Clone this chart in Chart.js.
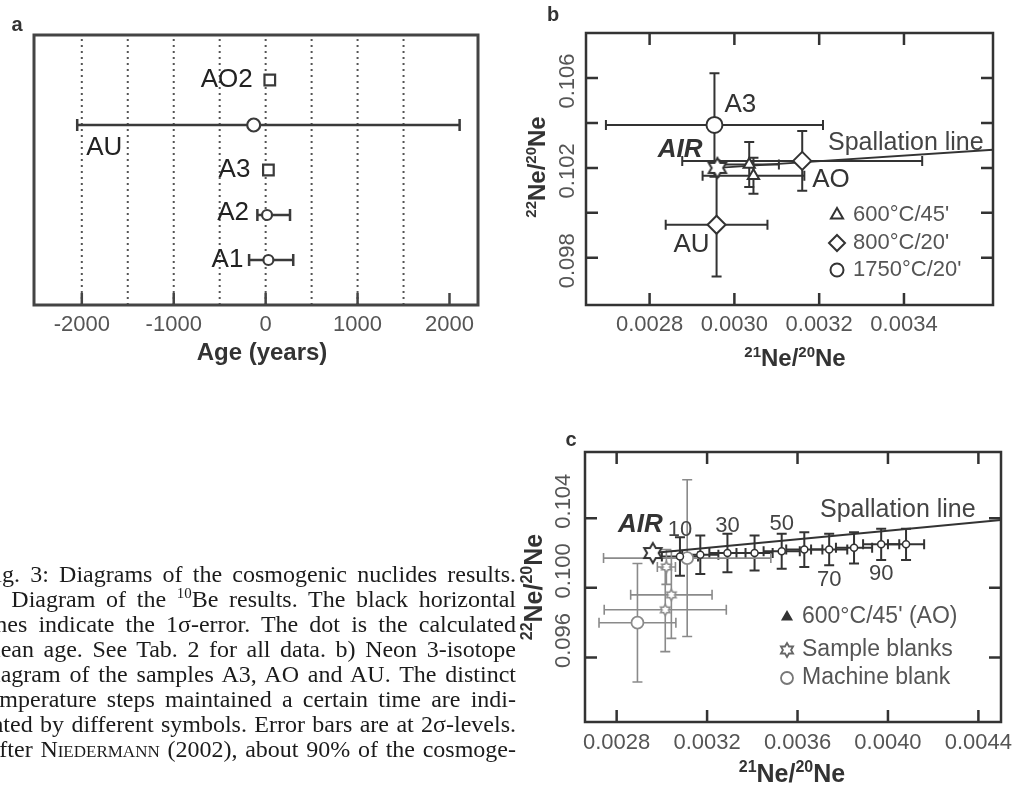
<!DOCTYPE html>
<html>
<head>
<meta charset="utf-8">
<title>Fig. 3</title>
<script src="https://cdn.jsdelivr.net/npm/chart.js@4.4.1/dist/chart.umd.min.js"></script>
<style>
  html, body { margin: 0; padding: 0; background: #fff; }
  body { width: 1012px; height: 785px; position: relative; overflow: hidden; }
  canvas { position: absolute; }
  #caption { position: absolute; left: -18px; top: 562px; width: 534px;
    font: 24px/25px "Liberation Serif", "Times New Roman", serif; color: #1b1b1b; }
  #caption div { white-space: nowrap; }
  .sc { font-variant: small-caps; }
  sup { font-size: 62%; line-height: 0; vertical-align: 0.6em; }
</style>
</head>
<body>
<canvas id="ageChart" style="left:0;top:0"></canvas>
<canvas id="neonChart" style="left:500px;top:0"></canvas>
<canvas id="blankChart" style="left:500px;top:400px"></canvas>
<div id="caption">
<div>Fig. 3: Diagrams of the cosmogenic nuclides results.</div>
<div>a) Diagram of the <sup>10</sup>Be results. The black horizontal</div>
<div>lines indicate the 1σ-error. The dot is the calculated</div>
<div>mean age. See Tab. 2 for all data. b) Neon 3-isotope</div>
<div>diagram of the samples A3, AO and AU. The distinct</div>
<div>temperature steps maintained a certain time are indi-</div>
<div>cated by different symbols. Error bars are at 2σ-levels.</div>
<div>After <span class="sc">Niedermann</span> (2002), about 90% of the cosmoge-</div>
</div>
<script>
// ---- a) 10Be ages (years), one row per sample ----
const ageSamples = ['AO2', 'AU', 'A3', 'A2', 'A1'];
const ageRows = [5, 4, 3, 2, 1];
const ageMean = [45, -130, 30, 15, 30];
const ageLow = [45, -2050, 30, -90, -180];
const ageHigh = [45, 2110, 30, 265, 300];
const ageGridLines = [-2000, -1500, -1000, -500, 0, 500, 1000, 1500];
const ageTicks = [-2000, -1000, 0, 1000, 2000];

// ---- b) neon 3-isotope plot, samples A3, AO, AU ----
const step600X = [0.003035, 0.003045];
const step600Y = [0.10215, 0.10165];
const step600XErr = [0.00007, 0.00012];
const step600YErr = [0.0010, 0.0008];
const step800Names = ['AO', 'AU'];
const step800X = [0.00316, 0.002958];
const step800Y = [0.10231, 0.09947];
const step800XErr = [0.000283, 0.00012];
const step800YErr = [0.00133, 0.0023];
const step1750Names = ['A3'];
const step1750X = [0.002953];
const step1750Y = [0.10391];
const step1750XErr = [0.000256];
const step1750YErr = [0.0023];
const airX = [0.00296];
const airY = [0.102];
const spallationX = [0.00296, 0.0045];
const spallationY = [0.102, 0.1039];
const bXTicks = [0.0028, 0.0030, 0.0032, 0.0034];
const bYTicks = [0.098, 0.100, 0.102, 0.104, 0.106];
const bYTickLabels = [0.098, 0.102, 0.106];

// ---- c) AO 600°C/45' release steps and blanks ----
const aoX = [0.00308, 0.00317, 0.00329, 0.00341, 0.00353, 0.00363, 0.00374, 0.00385, 0.00397, 0.00408];
const aoY = [0.1018, 0.1019, 0.1020, 0.1020, 0.1021, 0.1022, 0.1022, 0.1023, 0.1025, 0.1025];
const aoXErr = [0.00008, 0.00008, 0.00008, 0.00008, 0.00008, 0.00008, 0.00008, 0.00008, 0.00008, 0.00008];
const aoYErr = [0.0011, 0.0011, 0.0011, 0.0010, 0.0010, 0.0010, 0.0009, 0.0009, 0.0009, 0.0009];
const aoRelease = ['10', '', '30', '', '50', '', '70', '', '90', ''];
const sampleBlankX = [0.00302, 0.003042, 0.003015];
const sampleBlankY = [0.1012, 0.0996, 0.09874];
const sampleBlankXErr = [0.00004, 0.00018, 0.00027];
const sampleBlankYErr = [0.0010, 0.0025, 0.0024];
const machineBlankX = [0.002892, 0.003112];
const machineBlankY = [0.0980, 0.10171];
const machineBlankXErr = [0.00017, 0.00037];
const machineBlankYErr = [0.0034, 0.0045];
const cXTicks = [0.0028, 0.0032, 0.0036, 0.0040, 0.0044];
const cYTicks = [0.096, 0.100, 0.104];

const FAMILY = '"Liberation Sans", Arial, Helvetica, sans-serif';
const font = (size, weight = 'normal', style = 'normal') => `${style} ${weight} ${size}px ${FAMILY}`;
const INK = '#333';
const GREY = '#555';

// points with error ranges, built from the arrays above
const withErr = (xs, ys, xe, ye) => xs.map((v, i) => ({
  x: v, y: ys[i],
  xMin: xe ? v - xe[i] : undefined, xMax: xe ? v + xe[i] : undefined,
  yMin: ye ? ys[i] - ye[i] : undefined, yMax: ye ? ys[i] + ye[i] : undefined
}));

function starCanvas(r, color, lw) {
  const c = document.createElement('canvas');
  const s = Math.ceil(2 * r + 2 * lw + 2);
  c.width = c.height = s;
  const g = c.getContext('2d');
  g.translate(s / 2, s / 2);
  g.beginPath();
  for (let k = 0; k < 12; k++) {
    const rr = k % 2 ? r / Math.sqrt(3) : r;
    const a = -Math.PI / 2 + k * Math.PI / 6;
    g.lineTo(rr * Math.cos(a), rr * Math.sin(a));
  }
  g.closePath();
  g.fillStyle = '#fff';
  g.fill();
  g.lineWidth = lw;
  g.strokeStyle = color;
  g.stroke();
  return c;
}

function write(ctx, s, x, y, f, color, align = 'left', rot = 0) {
  ctx.save();
  ctx.translate(x, y);
  ctx.rotate(rot);
  ctx.font = f;
  ctx.fillStyle = color;
  ctx.textAlign = align;
  ctx.textBaseline = 'middle';
  ctx.fillText(s, 0, 0);
  ctx.restore();
}

// "²¹Ne/²⁰Ne" style title with real superscripts, centred on x
function isoTitle(ctx, o) {
  const parts = [[o.a, 1], ['Ne/', 0], [o.b, 1], ['Ne', 0]];
  ctx.save();
  ctx.translate(o.x, o.y);
  ctx.rotate(o.rot || 0);
  ctx.fillStyle = o.color;
  ctx.textBaseline = 'alphabetic';
  ctx.textAlign = 'left';
  const w = parts.map(([s, sup]) => { ctx.font = sup ? o.small : o.big; return ctx.measureText(s).width; });
  let cx = -w.reduce((p, c) => p + c, 0) / 2;
  parts.forEach(([s, sup], i) => {
    ctx.font = sup ? o.small : o.big;
    ctx.fillText(s, cx, sup ? -o.raise : 0);
    cx += w[i];
  });
  ctx.restore();
}

function marker(ctx, kind, x, y, r, stroke, fill, lw) {
  if (kind instanceof HTMLCanvasElement) {
    ctx.drawImage(kind, x - kind.width / 2, y - kind.height / 2);
    return;
  }
  ctx.save();
  ctx.beginPath();
  if (kind === 'triangle') {
    for (let k = 0; k < 3; k++) {
      const a = -Math.PI / 2 + k * 2 * Math.PI / 3;
      ctx.lineTo(x + r * Math.cos(a), y + r * Math.sin(a));
    }
    ctx.closePath();
  } else if (kind === 'diamond') {
    ctx.moveTo(x, y - r); ctx.lineTo(x + r, y); ctx.lineTo(x, y + r); ctx.lineTo(x - r, y); ctx.closePath();
  } else {
    ctx.arc(x, y, r, 0, 2 * Math.PI);
  }
  ctx.fillStyle = fill;
  ctx.fill();
  ctx.lineWidth = lw;
  ctx.strokeStyle = stroke;
  ctx.stroke();
  ctx.restore();
}

// frame, inward ticks, error bars, labels, legend
function decor(cfg) {
  return {
    id: 'decor',
    beforeDatasetsDraw(chart) {
      const { ctx, chartArea: a, scales: { x, y } } = chart;
      ctx.save();
      ctx.beginPath();
      ctx.rect(a.left, a.top, a.width, a.height);
      ctx.clip();
      if (cfg.dotted) {
        const d = cfg.dotted;
        ctx.strokeStyle = d.color;
        ctx.lineWidth = d.width;
        ctx.setLineDash(d.dash);
        d.values.forEach(v => {
          const p = x.getPixelForValue(v);
          ctx.beginPath();
          ctx.moveTo(p, a.top + 4);
          ctx.lineTo(p, a.bottom);
          ctx.stroke();
        });
        ctx.setLineDash([]);
      }
      chart.data.datasets.forEach(ds => {
        const e = ds.errorBar;
        if (!e) return;
        ctx.strokeStyle = e.color;
        ctx.lineWidth = e.width;
        ds.data.forEach(p => {
          const cx = x.getPixelForValue(p.x), cy = y.getPixelForValue(p.y);
          ctx.beginPath();
          if (p.xMin !== undefined && p.xMin !== p.xMax) {
            const l = x.getPixelForValue(p.xMin), r = x.getPixelForValue(p.xMax);
            ctx.moveTo(l, cy); ctx.lineTo(r, cy);
            ctx.moveTo(l, cy - e.cap); ctx.lineTo(l, cy + e.cap);
            ctx.moveTo(r, cy - e.cap); ctx.lineTo(r, cy + e.cap);
          }
          if (p.yMin !== undefined && p.yMin !== p.yMax) {
            const t = y.getPixelForValue(p.yMax), b = y.getPixelForValue(p.yMin);
            ctx.moveTo(cx, t); ctx.lineTo(cx, b);
            ctx.moveTo(cx - e.cap, t); ctx.lineTo(cx + e.cap, t);
            ctx.moveTo(cx - e.cap, b); ctx.lineTo(cx + e.cap, b);
          }
          ctx.stroke();
        });
      });
      ctx.restore();
    },
    afterDraw(chart) {
      const { ctx, chartArea: a, scales: { x, y } } = chart;
      const t = cfg.ticks;
      ctx.save();
      ctx.strokeStyle = cfg.frame.color;
      ctx.lineWidth = t.width;
      ctx.beginPath();
      x.ticks.forEach(({ value }) => {
        const p = x.getPixelForValue(value);
        ctx.moveTo(p, a.bottom); ctx.lineTo(p, a.bottom - t.len);
        if (t.top) { ctx.moveTo(p, a.top); ctx.lineTo(p, a.top + t.len); }
      });
      y.ticks.forEach(({ value }) => {
        const p = y.getPixelForValue(value);
        ctx.moveTo(a.left, p); ctx.lineTo(a.left + t.len, p);
        ctx.moveTo(a.right, p); ctx.lineTo(a.right - t.len, p);
      });
      ctx.stroke();
      ctx.lineWidth = cfg.frame.width;
      ctx.strokeRect(a.left, a.top, a.width, a.height);

      if (cfg.yLabels) {
        const yl = cfg.yLabels;
        yl.values.forEach(v => write(ctx, v.toFixed(3), yl.x, y.getPixelForValue(v) + (yl.shift || 0), yl.font, GREY, 'center', -Math.PI / 2));
      }
      (cfg.titles || []).forEach(ti => ti.a ? isoTitle(ctx, ti) : write(ctx, ti.text, ti.x, ti.y, ti.font, ti.color, 'center', ti.rot || 0));
      (cfg.labels || []).forEach(l => {
        const px = l.px !== undefined ? l.px : x.getPixelForValue(l.x) + (l.dx || 0);
        const py = l.py !== undefined ? l.py : y.getPixelForValue(l.y) + (l.dy || 0);
        write(ctx, l.text, px, py, l.font, l.color || INK, l.align || 'left');
      });
      if (cfg.legend) {
        const lg = cfg.legend;
        lg.items.forEach((it, i) => {
          const py = lg.ys[i];
          marker(ctx, it.kind, lg.x, py, it.r, it.stroke || INK, it.fill || '#fff', it.lw || 2);
          write(ctx, it.text, lg.x + lg.gap, py, lg.font, GREY, 'left');
        });
      }
      ctx.restore();
    }
  };
}

function makeChart(id, w, h, padTop, padRight, yWidth, xHeight, xs, ys, datasets, cfg) {
  const cv = document.getElementById(id);
  cv.width = w; cv.height = h;
  cv.style.width = w + 'px'; cv.style.height = h + 'px';
  return new Chart(cv, {
    type: 'scatter',
    data: { datasets },
    options: {
      responsive: false,
      animation: false,
      layout: { padding: { top: padTop, right: padRight, left: 0, bottom: 0 } },
      plugins: { legend: { display: false }, tooltip: { enabled: false } },
      scales: {
        x: {
          type: 'linear', min: xs.min, max: xs.max,
          grid: { display: false, drawTicks: false },
          border: { display: false },
          afterBuildTicks: s => { s.ticks = xs.ticks.map(v => ({ value: v })); },
          ticks: {
            autoSkip: false, maxRotation: 0, minRotation: 0, padding: xs.pad,
            color: GREY, font: { family: FAMILY, size: 22 },
            callback: xs.label
          },
          afterFit: s => { s.height = xHeight; s.paddingLeft = 0; s.paddingRight = 0; }
        },
        y: {
          type: 'linear', min: ys.min, max: ys.max,
          grid: { display: false, drawTicks: false },
          border: { display: false },
          afterBuildTicks: s => { s.ticks = ys.ticks.map(v => ({ value: v })); },
          ticks: { display: false },
          afterFit: s => { s.width = yWidth; s.paddingTop = 0; s.paddingBottom = 0; }
        }
      }
    },
    plugins: [decor(cfg)]
  });
}

const bigStar = starCanvas(10, INK, 2);
const greyStar = starCanvas(5.5, '#8a8a8a', 1.5);
const legendStar = starCanvas(7, '#666', 1.8);

// ---------- a ----------
makeChart('ageChart', 500, 380, 35, 22, 34, 75,
  { min: -2520, max: 2310, ticks: ageTicks, pad: 7, label: v => String(v) },
  { min: 0, max: 6, ticks: [] },
  [{
    data: ageSamples.map((n, i) => ({ x: ageMean[i], y: ageRows[i], xMin: ageLow[i], xMax: ageHigh[i] })),
    errorBar: { color: '#3a3a3a', width: 2.5, cap: 6 },
    pointStyle: c => ['AO2', 'A3'].includes(ageSamples[c.dataIndex]) ? 'rect' : 'circle',
    pointRadius: c => ({ AO2: 7.5, A3: 7.5, AU: 6.5 })[ageSamples[c.dataIndex]] || 5,
    pointBackgroundColor: '#fff', pointBorderColor: '#3a3a3a', pointBorderWidth: 2.2
  }],
  {
    frame: { color: '#444', width: 3 },
    ticks: { width: 2.5, len: 12, top: false },
    dotted: { values: ageGridLines, color: '#555', width: 2, dash: [2, 4] },
    titles: [
      { text: 'Age (years)', x: 262, y: 353, font: font(24, 'bold'), color: INK },
      { text: 'a', x: 17, y: 25, font: font(20, 'bold'), color: INK }
    ],
    labels: ageSamples.map((n, i) => n === 'AU'
      ? { text: n, x: ageLow[i], y: ageRows[i], dx: 9, dy: 23, font: font(26), color: '#222', align: 'left' }
      : { text: n, x: ageMean[i], y: ageRows[i], dx: ({ AO2: -17, A3: -18, A2: -18, A1: -25 })[n], dy: n === 'A2' ? -2 : 0, font: font(26), color: '#222', align: 'right' })
  });

// ---------- b ----------
makeChart('neonChart', 512, 380, 33, 19, 86, 75,
  { min: 0.00265, max: 0.00361, ticks: bXTicks, pad: 7, label: v => v.toFixed(4) },
  { min: 0.0959, max: 0.108, ticks: bYTicks },
  [
    {
      data: withErr(airX, airY),
      pointStyle: bigStar, pointRadius: 10
    },
    {
      data: withErr(step1750X, step1750Y, step1750XErr, step1750YErr),
      errorBar: { color: INK, width: 2, cap: 5 },
      pointStyle: 'circle', pointRadius: 8,
      pointBackgroundColor: '#fff', pointBorderColor: INK, pointBorderWidth: 2
    },
    {
      data: withErr(step800X, step800Y, step800XErr, step800YErr),
      errorBar: { color: INK, width: 2, cap: 5 },
      pointStyle: 'rectRot', pointRadius: 9,
      pointBackgroundColor: '#fff', pointBorderColor: INK, pointBorderWidth: 2
    },
    {
      data: withErr(step600X, step600Y, step600XErr, step600YErr),
      errorBar: { color: INK, width: 2, cap: 5 },
      pointStyle: 'triangle', pointRadius: 6.5,
      pointBackgroundColor: '#fff', pointBorderColor: INK, pointBorderWidth: 2
    },
    {
      data: spallationX.map((v, i) => ({ x: v, y: spallationY[i] })),
      showLine: true, pointRadius: 0, borderColor: INK, borderWidth: 2, order: 10
    }
  ],
  {
    frame: { color: INK, width: 2.5 },
    ticks: { width: 2.5, len: 12, top: true },
    yLabels: { values: bYTickLabels, x: 68, font: font(22), shift: 3 },
    titles: [
      { a: '21', b: '20', x: 295, y: 366, big: font(24, 'bold'), small: font(15, 'bold'), raise: 9, color: INK },
      { a: '22', b: '20', x: 45, y: 167, rot: -Math.PI / 2, big: font(24, 'bold'), small: font(15, 'bold'), raise: 9, color: INK },
      { text: 'b', x: 53, y: 15, font: font(20, 'bold'), color: INK }
    ],
    labels: [
      { text: 'A3', x: step1750X[0], y: step1750Y[0], dx: 10, dy: -20, font: font(26) },
      { text: 'AO', x: step800X[0], y: step800Y[0], dx: 10, dy: 19, font: font(26) },
      { text: 'AU', x: step800X[1], y: step800Y[1], dx: -7, dy: 20, font: font(26), align: 'right' },
      { text: 'AIR', x: airX[0], y: airY[0], dx: -15, dy: -18, font: font(26, 'bold', 'italic'), align: 'right' },
      { text: 'Spallation line', px: 328, py: 143, font: font(25), color: '#444' }
    ],
    legend: {
      x: 337, gap: 16, ys: [215, 243, 270], font: font(22),
      items: [
        { kind: 'triangle', r: 7, text: '600°C/45\'' },
        { kind: 'diamond', r: 8, text: '800°C/20\'' },
        { kind: 'circle', r: 6.5, text: '1750°C/20\'' }
      ]
    }
  });

// ---------- c ----------
makeChart('blankChart', 512, 385, 52, 9, 85, 63,
  { min: 0.00266, max: 0.0045, ticks: cXTicks, pad: 8, label: v => v.toFixed(4) },
  { min: 0.0923, max: 0.1078, ticks: cYTicks },
  [
    {
      data: withErr(aoX, aoY, aoXErr, aoYErr),
      errorBar: { color: INK, width: 2, cap: 5 },
      pointStyle: 'circle', pointRadius: 3.5,
      pointBackgroundColor: '#fff', pointBorderColor: INK, pointBorderWidth: 1.5
    },
    {
      data: withErr(airX, airY),
      pointStyle: bigStar, pointRadius: 10
    },
    {
      data: withErr(machineBlankX, machineBlankY, machineBlankXErr, machineBlankYErr),
      errorBar: { color: '#8a8a8a', width: 1.6, cap: 5 },
      pointStyle: 'circle', pointRadius: 6,
      pointBackgroundColor: '#fff', pointBorderColor: '#8a8a8a', pointBorderWidth: 1.8
    },
    {
      data: withErr(sampleBlankX, sampleBlankY, sampleBlankXErr, sampleBlankYErr),
      errorBar: { color: '#8a8a8a', width: 1.6, cap: 5 },
      pointStyle: greyStar, pointRadius: 5
    },
    {
      data: spallationX.map((v, i) => ({ x: v, y: spallationY[i] })),
      showLine: true, pointRadius: 0, borderColor: INK, borderWidth: 2, order: 10
    }
  ],
  {
    frame: { color: INK, width: 2.5 },
    ticks: { width: 2.5, len: 12, top: true },
    yLabels: { values: cYTicks, x: 64, font: font(22), shift: -17 },
    titles: [
      { a: '21', b: '20', x: 292, y: 382, big: font(25, 'bold'), small: font(16, 'bold'), raise: 10, color: INK },
      { a: '22', b: '20', x: 42, y: 187, rot: -Math.PI / 2, big: font(25, 'bold'), small: font(16, 'bold'), raise: 10, color: INK },
      { text: 'c', x: 71, y: 40, font: font(20, 'bold'), color: INK }
    ],
    labels: aoRelease.map((s, i) => ({ text: s, x: aoX[i], y: aoY[i], dx: 0, dy: i < 6 ? -27 : 30, font: font(22), color: '#444', align: 'center' }))
      .filter(l => l.text)
      .concat([
        { text: 'AIR', x: airX[0], y: airY[0], dx: 10, dy: -28, font: font(26, 'bold', 'italic'), align: 'right' },
        { text: 'Spallation line', px: 320, py: 110, font: font(25), color: '#444' }
      ]),
    legend: {
      x: 287, gap: 15, ys: [217, 250, 278], font: font(23),
      items: [
        { kind: 'triangle', r: 5, text: '600°C/45\' (AO)', fill: INK },
        { kind: legendStar, r: 7, text: 'Sample blanks' },
        { kind: 'circle', r: 6, text: 'Machine blank', stroke: '#777', lw: 1.8 }
      ]
    }
  });

// justify caption lines to the column width
document.querySelectorAll('#caption div').forEach(line => {
  const r = document.createRange();
  r.selectNodeContents(line);
  const w = r.getBoundingClientRect().width;
  const gaps = line.textContent.split(' ').length - 1;
  line.style.wordSpacing = ((534 - w) / gaps) + 'px';
});
</script>
</body>
</html>
